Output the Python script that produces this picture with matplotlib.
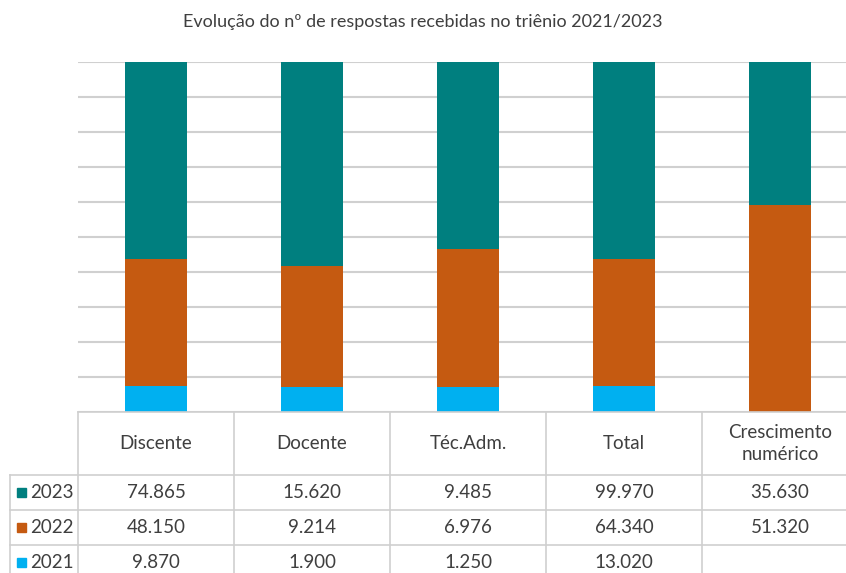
import matplotlib
matplotlib.use("Agg")
import matplotlib.pyplot as plt
import numpy as np

# data
categories = ["Discente", "Docente", "Téc.Adm.", "Total", "Crescimento\nnumérico"]
years = ["2023", "2022", "2021"]
v2023 = [74865, 15620, 9485, 99970, 35630]
v2022 = [48150, 9214, 6976, 64340, 51320]
v2021 = [9870, 1900, 1250, 13020, None]
colors = {"2023": "#007F7F", "2022": "#C55A11", "2021": "#00B0F0"}

plt.rcParams["font.family"] = ["Lato", "DejaVu Sans"]
TXT = "#3F3F3F"

W, H = 846, 573
fig = plt.figure(figsize=(W / 100, H / 100), dpi=100)

# layout in pixels
left, top, bottom = 78, 62, 412
colw = 156
ax = fig.add_axes([left / W, 1 - bottom / H, colw * 5 / W, (bottom - top) / H])

series = {"2023": v2023, "2022": v2022, "2021": v2021}
arr = {k: np.array([0 if x is None else x for x in v], dtype=float) for k, v in series.items()}
tot = arr["2021"] + arr["2022"] + arr["2023"]
x = np.arange(len(categories))
base = np.zeros(len(categories))
for yr in ["2021", "2022", "2023"]:
    pct = arr[yr] / tot * 100
    ax.bar(x, pct, 0.40, bottom=base, color=colors[yr], zorder=3)
    base += pct

ax.set_xlim(-0.5, len(categories) - 0.5)
ax.set_ylim(0, 100)
ax.set_yticks(np.arange(0, 101, 10))
ax.yaxis.grid(True, color="#D0D0D0", linewidth=1.5, zorder=0)
ax.tick_params(left=False, bottom=False, labelleft=False, labelbottom=False)
for s in ax.spines.values():
    s.set_visible(False)

fig.text(0.5, 1 - 22 / H, "Evolução do nº de respostas recebidas no triênio 2021/2023",
         ha="center", va="center", fontsize=13, color=TXT)

# data table drawn by hand under the axes
ov = fig.add_axes([0, 0, 1, 1], facecolor="none")
ov.set_xlim(0, W)
ov.set_ylim(H, 0)
ov.axis("off")
lc = "#CFCFCF"
hdr_bot = 475
row_h = 35
lab_left = 10
right = left + colw * len(categories)

ov.plot([left, right], [bottom, bottom], color=lc, lw=1.2)
for i in range(len(years)):
    y = hdr_bot + i * row_h
    ov.plot([lab_left, right], [y, y], color=lc, lw=1.2)
ov.plot([left, left], [bottom, H], color=lc, lw=1.2)
ov.plot([lab_left, lab_left], [hdr_bot, H], color=lc, lw=1.2)
for i in range(1, len(categories)):
    xx = left + colw * i
    ov.plot([xx, xx], [bottom, H], color=lc, lw=1.2)

for i, c in enumerate(categories):
    ov.text(left + colw * (i + 0.5), (bottom + hdr_bot) / 2, c, ha="center", va="center",
            fontsize=13.5, color=TXT, linespacing=1.3)

def fmt(v):
    return "" if v is None else f"{v:,}".replace(",", ".")

for r, yr in enumerate(years):
    yc = hdr_bot + row_h * (r + 0.5)
    ov.add_patch(plt.Rectangle((17, yc - 5), 9, 9, color=colors[yr]))
    ov.text(30, yc, yr, ha="left", va="center", fontsize=13.5, color=TXT)
    for i, v in enumerate(series[yr]):
        ov.text(left + colw * (i + 0.5), yc, fmt(v), ha="center", va="center",
                fontsize=13.5, color=TXT)

fig.savefig("out.png", dpi=100, facecolor="white")
